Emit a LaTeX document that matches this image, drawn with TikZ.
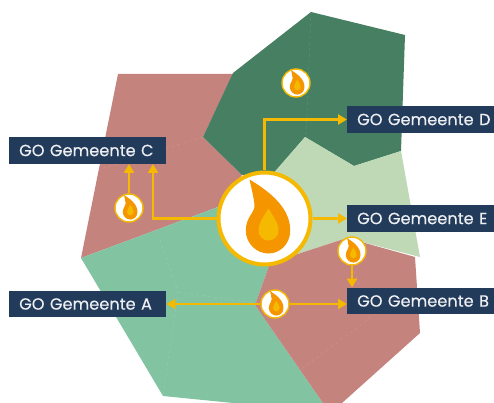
\documentclass[tikz,border=0pt]{standalone}
\usepackage{fontspec}
\setmainfont[FakeBold=0.35]{Poppins}
\usetikzlibrary{arrows.meta}
\definecolor{regionred}{HTML}{C5837E}
\definecolor{regiondark}{HTML}{467F62}
\definecolor{regionlight}{HTML}{BFD8B6}
\definecolor{regionmint}{HTML}{82C4A2}
\definecolor{boxblue}{HTML}{233B5A}
\definecolor{flameyellow}{HTML}{F4B900}
\definecolor{flameorange}{HTML}{F59600}

\tikzset{
	gobox/.style={fill=boxblue,text=white!92!boxblue,font=\fontsize{16.2}{19}\selectfont,anchor=west,inner xsep=10pt,inner ysep=0pt,minimum height=26.5pt,text width=#1},
	goline/.style={draw=flameyellow,line width=2.8pt,-{Triangle[length=9pt,width=10pt]}},
	bigflame/.style={circle,draw=flameyellow,fill=white,line width=4pt,minimum size=92pt,inner sep=0pt},
	smallflame/.style={circle,draw=flameyellow,fill=white,line width=1.4pt,minimum size=28pt,inner sep=0pt},
	seam/.style={draw=white,opacity=0.12,line width=0.5pt,dashed},
	flame/.pic={
		\fill[flameorange] (-15,-39) .. controls (-2,-31) and (26,-14) .. (25.7,12)
			.. controls (25.7,26) and (15,35) .. (4,35)
			.. controls (-8,35) and (-18.7,25) .. (-18.7,12)
			.. controls (-18.7,-2) and (-9,-6) .. (-10,-14)
			.. controls (-11,-22) and (-13,-30) .. (-15,-39) -- cycle;
		\fill[flameyellow] (4,-10) .. controls (8,-3) and (14,4) .. (14,12)
			.. controls (14,18) and (9,22) .. (4,22)
			.. controls (-1,22) and (-6,18) .. (-6,12)
			.. controls (-6,4) and (0,-3) .. (4,-10) -- cycle;
	}
}

\begin{document}
\begin{tikzpicture}[x=1pt,y=-1pt]
		\useasboundingbox (0,0) rectangle (494,403);
		% regions
		\fill[regionred] (118,74) -- (233,74) -- (203,137) -- (242,175) -- (218,207) -- (81,258) -- cycle;
		\fill[regiondark] (311,12) -- (405,35) -- (401,151) -- (354,166) -- (305,137) -- (275,172) -- (242,175) -- (203,137) -- (233,73) -- cycle;
		\fill[regionlight] (305,137) -- (354,166) -- (401,151) -- (420,257) -- (347,238) -- (270,263) -- (250,200) -- cycle;
		\fill[regionmint] (81,258) -- (218,207) -- (270,263) -- (255,305) -- (323,403) -- (233,403) -- (163,396) -- cycle;
		\fill[regionred] (270,263) -- (347,238) -- (415,257) -- (420,333) -- (342,403) -- (323,403) -- (255,305) -- cycle;
		\draw[seam] (311,12) -- (306,137);
		\draw[seam] (203,137) -- (97,170);
		\draw[seam] (160,240) -- (178,292) -- (163,396);
		\draw[seam] (178,292) -- (255,303);
		\draw[seam] (352,265) -- (370,318) -- (300,370);
		% labels
		\node[gobox=137pt] (gemc) at (9,150.5) {GO~Gemeente~C};
		\node[gobox=127pt] (gemd) at (347,119.5) {GO~Gemeente~D};
		\node[gobox=127pt] (geme) at (347,218.5) {GO~Gemeente~E};
		\node[gobox=127pt] (gemb) at (347,301) {GO~Gemeente~B};
		\node[gobox=137pt] (gema) at (9,304) {GO~Gemeente~A};
		% flames
		\node[bigflame] (center) at (264.5,218.5) {};
		\node[smallflame] (flamec) at (129,208) {};
		\node[smallflame] (flamed) at (296,83) {};
		\node[smallflame] (flameb) at (352,251) {};
		\node[smallflame] (flamea) at (275,304) {};
		\pic at (center) {flame};
		\pic[scale=0.33] at (flamec) {flame};
		\pic[scale=0.33] at (flamed) {flame};
		\pic[scale=0.33] at (flameb) {flame};
		\pic[scale=0.33] at (flamea) {flame};
		% connectors
		\coordinate (cfoot) at (153,164);
		\draw[goline] (center.north) |- (gemd.west);
		\draw[goline] (center.east) -- (center.east -| geme.west);
		\draw[goline] (center.west) -| (cfoot);
		\draw[goline] (flamec.north) -- (flamec.north |- gemc.south);
		\draw[goline] (flameb.south) -- (flameb.south |- gemb.north);
		\draw[goline] (flamea.east) -- (flamea.east -| gemb.west);
		\draw[goline] (flamea.west) -- (flamea.west -| gema.east);
\end{tikzpicture}
\end{document}
